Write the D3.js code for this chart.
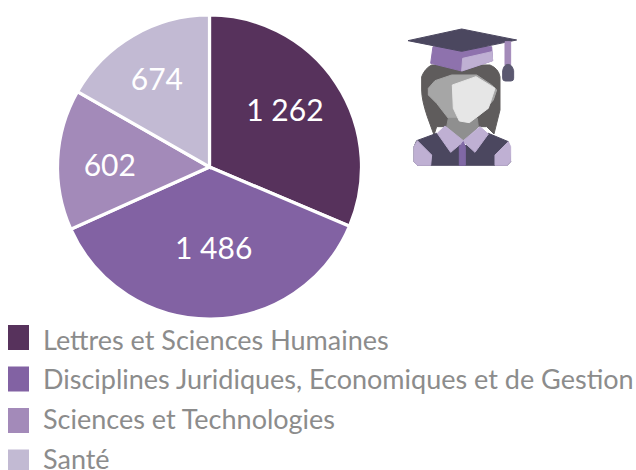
<!DOCTYPE html>
<html><head><meta charset="utf-8">
<script src="https://cdn.jsdelivr.net/npm/d3@7"></script>
<style>html,body{margin:0;padding:0;background:#fff}svg{display:block}text{font-family:Lato,"Open Sans",sans-serif}</style>
</head><body><svg id="c" width="636" height="470"></svg>
<script>
const categories = ["Lettres et Sciences Humaines","Disciplines Juridiques, Economiques et de Gestion","Sciences et Technologies","Santé"];
const values = [1262,1486,602,674];
const valueLabels = ["1 262","1 486","602","674"];
const colors = ["#57325c","#8262a3","#a38ab9","#c2bad3"];
const labelNudge = [[-12,1],[3,-24],[5,3],[0,3]];

const svg = d3.select("#c");
const cx=209.5, cy=167, R=152;
const pie = d3.pie().sort(null).value(d=>d)(values);
const arc = d3.arc().innerRadius(0).outerRadius(R);
const labelArc = d3.arc().innerRadius(R*0.69).outerRadius(R*0.69);
const g = svg.append("g").attr("transform",`translate(${cx},${cy})`);
g.selectAll("path").data(pie).join("path")
  .attr("d",arc).attr("fill",(d,i)=>colors[i]).attr("stroke","#fff").attr("stroke-width",3.2);
g.selectAll("text").data(pie).join("text")
  .attr("transform",(d,i)=>{const c=labelArc.centroid(d);return `translate(${c[0]+labelNudge[i][0]},${c[1]+labelNudge[i][1]})`;})
  .attr("text-anchor","middle").attr("dy","0.36em")
  .attr("fill","#fff").attr("font-size",30).text((d,i)=>valueLabels[i]);

const swatchY = d3.scalePoint().domain(categories).range([337.5,462]);
const textY = d3.scalePoint().domain(categories).range([349.5,469]);
const leg = svg.append("g");
leg.selectAll("rect").data(categories).join("rect")
  .attr("x",8).attr("y",d=>swatchY(d)-12.5).attr("width",21).attr("height",25).attr("fill",(d,i)=>colors[i]);
leg.selectAll("text").data(categories).join("text")
  .attr("x",43).attr("y",d=>textY(d)).attr("fill","#8c8c8c").attr("font-size",27).text(d=>d);

// Graduate icon (decorative)
const ic = svg.append("g").attr("transform","translate(390,10) scale(0.3333)");
[
 ["M95 200 Q105 175 125 165 L300 165 Q325 175 330 200 L330 300 L312 372 L290 350 L140 350 L132 375 L112 320 Q95 270 95 240Z","#5f5c5c"],
 ["M135 212 L185 195 L260 195 L305 225 L320 240 L310 270 L285 300 L240 340 L175 325 L140 280 L115 255 L115 235Z","#a6a6a6"],
 ["M175 325 L262 325 L265 350 L220 395 L170 350Z","#8f8f8f"],
 ["M187 225 L258 200 L315 235 L295 295 L238 338 L208 333 L190 295Z","#e6e6e6"],
 ["M80 392 L140 370 L220 410 L295 370 L355 395 L362 455 L352 466 L82 466 L72 455 L72 410Z","#4b475f"],
 ["M72 410 L82 392 L125 435 L122 466 L82 466 L72 455Z","#bfb0d3"],
 ["M362 410 L355 395 L315 435 L315 466 L352 466 L362 455Z","#bfb0d3"],
 ["M165 348 L220 392 L270 350 L295 372 L255 427 L220 395 L182 427 L142 370Z","#bfb0d3"],
 ["M208 410 L220 395 L226 410 L226 466 L208 466Z","#8068a5"],
 ["M129 110 L305 110 L308 152 L215 183 L122 160Z","#8e72ad"],
 ["M218 145 L306 125 L308 152 L215 183Z","#bfb0d3"],
 ["M54 92 L215 57 L380 90 L215 124Z","#4b475f"],
 ["M345 95 L362 95 L362 165 L345 165Z","#a38ab9"],
 ["M338 182 Q342 163 354 163 Q366 163 371 182 L371 205 Q371 213 363 213 L346 213 Q338 213 338 205Z","#5b5870"]
].forEach(([d,f])=>ic.append("path").attr("d",d).attr("fill",f).attr("stroke",f).attr("stroke-width",3).attr("stroke-linejoin","round"));
</script></body></html>
